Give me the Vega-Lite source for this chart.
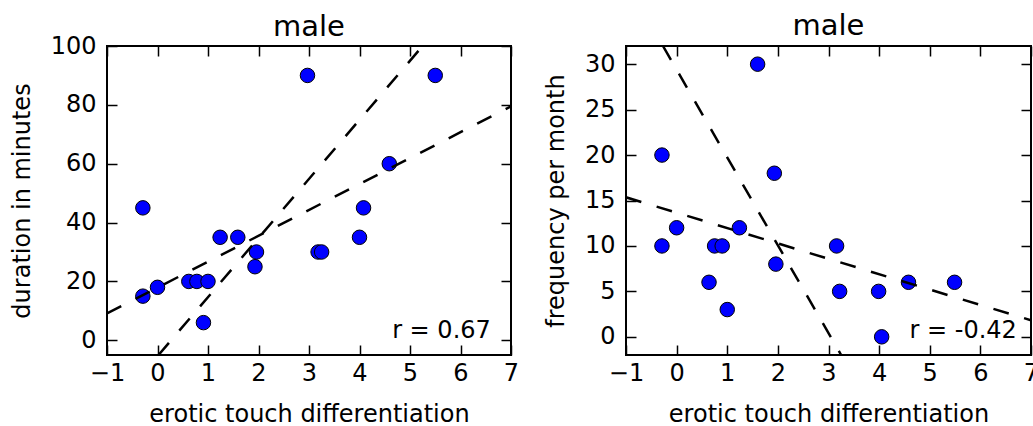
{
  "$schema": "https://vega.github.io/schema/vega-lite/v6.json",
  "padding": {"left": 9, "top": 11, "right": 0, "bottom": 0},
  "spacing": 23,
  "config": {
    "font": "DejaVu Sans",
    "view": {"stroke": "black", "strokeWidth": 2},
    "axis": {
      "domain": false, "grid": false, "minExtent": 0, "labelFlush": false, "labelOverlap": false,
      "tickColor": "black", "tickWidth": 1.5, "tickSize": -10,
      "labelFontSize": 24, "labelColor": "black", "labelFont": "DejaVu Sans",
      "titleFontSize": 24, "titleColor": "black", "titleFontWeight": "normal", "titleFont": "DejaVu Sans"
    },
    "axisX": {"labelPadding": 16, "titlePadding": 17},
    "axisY": {"labelPadding": 21, "titlePadding": 16},
    "title": {"fontSize": 29, "fontWeight": "normal", "color": "black", "font": "DejaVu Sans"}
  },
  "datasets": {
    "left_points": [
      {"differentiation": -0.29, "duration": 45},
      {"differentiation": -0.29, "duration": 15},
      {"differentiation": 0.0, "duration": 18},
      {"differentiation": 0.62, "duration": 20},
      {"differentiation": 0.78, "duration": 20},
      {"differentiation": 1.0, "duration": 20},
      {"differentiation": 0.91, "duration": 6},
      {"differentiation": 1.24, "duration": 35},
      {"differentiation": 1.59, "duration": 35},
      {"differentiation": 1.96, "duration": 30},
      {"differentiation": 1.93, "duration": 25},
      {"differentiation": 2.97, "duration": 90},
      {"differentiation": 3.18, "duration": 30},
      {"differentiation": 3.25, "duration": 30},
      {"differentiation": 4.0, "duration": 35},
      {"differentiation": 4.08, "duration": 45},
      {"differentiation": 4.59, "duration": 60},
      {"differentiation": 5.5, "duration": 90}
    ],
    "left_lines": [
      {"line": "a", "differentiation": -1, "duration": 9.1},
      {"line": "a", "differentiation": 7, "duration": 79.5},
      {"line": "b", "differentiation": 0.02, "duration": -5},
      {"line": "b", "differentiation": 5.25, "duration": 100}
    ],
    "right_points": [
      {"differentiation": -0.29, "frequency": 20},
      {"differentiation": -0.29, "frequency": 10},
      {"differentiation": 0.0, "frequency": 12},
      {"differentiation": 0.64, "frequency": 6},
      {"differentiation": 0.75, "frequency": 10},
      {"differentiation": 0.9, "frequency": 10},
      {"differentiation": 1.0, "frequency": 3},
      {"differentiation": 1.24, "frequency": 12},
      {"differentiation": 1.6, "frequency": 30},
      {"differentiation": 1.93, "frequency": 18},
      {"differentiation": 1.96, "frequency": 8},
      {"differentiation": 3.16, "frequency": 10},
      {"differentiation": 3.22, "frequency": 5},
      {"differentiation": 3.99, "frequency": 5},
      {"differentiation": 4.05, "frequency": 0},
      {"differentiation": 4.58, "frequency": 6},
      {"differentiation": 5.49, "frequency": 6}
    ],
    "right_lines": [
      {"line": "a", "differentiation": -1, "frequency": 15.35},
      {"line": "a", "differentiation": 7, "frequency": 1.82},
      {"line": "b", "differentiation": -0.27, "frequency": 32},
      {"line": "b", "differentiation": 3.25, "frequency": -2}
    ]
  },
  "hconcat": [
    {
      "width": 404, "height": 309,
      "title": {"text": "male", "baseline": "alphabetic", "offset": -31},
      "layer": [
        {
          "data": {"name": "left_points"},
          "mark": {"type": "point", "shape": "circle", "filled": true, "size": 210, "fill": "#0000ff", "stroke": "black", "strokeWidth": 1, "opacity": 1},
          "encoding": {
            "x": {"field": "differentiation", "type": "quantitative", "scale": {"domain": [-1, 7], "nice": false, "zero": false},
                  "axis": {"orient": "bottom", "title": "erotic touch differentiation", "values": [-1, 0, 1, 2, 3, 4, 5, 6, 7]}},
            "y": {"field": "duration", "type": "quantitative", "scale": {"domain": [-5, 100], "nice": false, "zero": false},
                  "axis": {"orient": "left", "title": "duration in minutes", "values": [0, 20, 40, 60, 80, 100]}}
          }
        },
        {
          "data": {"name": "left_lines"},
          "mark": {"type": "line", "color": "black", "strokeWidth": 2.5, "strokeDash": [16, 16], "clip": true},
          "encoding": {
            "x": {"field": "differentiation", "type": "quantitative",
                  "axis": {"orient": "top", "labels": false, "title": null, "minExtent": 0, "values": [-1, 0, 1, 2, 3, 4, 5, 6, 7]}},
            "y": {"field": "duration", "type": "quantitative",
                  "axis": {"orient": "right", "labels": false, "title": null, "minExtent": 0, "values": [0, 20, 40, 60, 80, 100]}},
            "detail": {"field": "line"}
          }
        },
        {
          "data": {"values": [{}]},
          "mark": {"type": "text", "text": "r = 0.67", "align": "right", "baseline": "alphabetic", "fontSize": 24, "color": "black"},
          "encoding": {
            "x": {"datum": 6.6, "type": "quantitative", "axis": null},
            "y": {"datum": 0.7, "type": "quantitative", "axis": null}
          }
        }
      ],
      "resolve": {"axis": {"x": "independent", "y": "independent"}}
    },
    {
      "width": 405, "height": 309,
      "title": {"text": "male", "baseline": "alphabetic", "offset": -19},
      "layer": [
        {
          "data": {"name": "right_points"},
          "mark": {"type": "point", "shape": "circle", "filled": true, "size": 210, "fill": "#0000ff", "stroke": "black", "strokeWidth": 1, "opacity": 1},
          "encoding": {
            "x": {"field": "differentiation", "type": "quantitative", "scale": {"domain": [-1, 7], "nice": false, "zero": false},
                  "axis": {"orient": "bottom", "title": "erotic touch differentiation", "values": [-1, 0, 1, 2, 3, 4, 5, 6, 7]}},
            "y": {"field": "frequency", "type": "quantitative", "scale": {"domain": [-2, 32], "nice": false, "zero": false},
                  "axis": {"orient": "left", "title": "frequency per month", "values": [0, 5, 10, 15, 20, 25, 30]}}
          }
        },
        {
          "data": {"name": "right_lines"},
          "mark": {"type": "line", "color": "black", "strokeWidth": 2.5, "strokeDash": [16, 16], "clip": true},
          "encoding": {
            "x": {"field": "differentiation", "type": "quantitative",
                  "axis": {"orient": "top", "labels": false, "title": null, "minExtent": 0, "values": [-1, 0, 1, 2, 3, 4, 5, 6, 7]}},
            "y": {"field": "frequency", "type": "quantitative",
                  "axis": {"orient": "right", "labels": false, "title": null, "minExtent": 0, "values": [0, 5, 10, 15, 20, 25, 30]}},
            "detail": {"field": "line"}
          }
        },
        {
          "data": {"values": [{}]},
          "mark": {"type": "text", "text": "r = -0.42", "align": "right", "baseline": "alphabetic", "fontSize": 24, "color": "black"},
          "encoding": {
            "x": {"datum": 6.72, "type": "quantitative", "axis": null},
            "y": {"datum": -0.15, "type": "quantitative", "axis": null}
          }
        }
      ],
      "resolve": {"axis": {"x": "independent", "y": "independent"}}
    }
  ]
}
